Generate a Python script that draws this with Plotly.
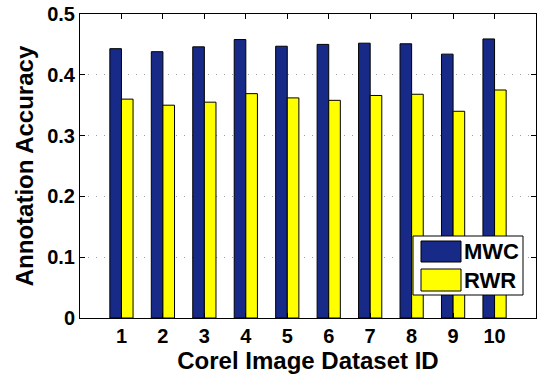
import plotly.graph_objects as go

dataset_ids = [1, 2, 3, 4, 5, 6, 7, 8, 9, 10]
mwc = [0.443, 0.438, 0.446, 0.458, 0.447, 0.450, 0.452, 0.451, 0.434, 0.459]
rwr = [0.360, 0.350, 0.355, 0.369, 0.362, 0.358, 0.366, 0.368, 0.340, 0.375]
series_names = ["MWC", "RWR"]
series_colors = ["#172a88", "#ffff00"]
y_ticks = [0, 0.1, 0.2, 0.3, 0.4, 0.5]
y_tick_text = ["0", "0.1", "0.2", "0.3", "0.4", "0.5"]

FONT = "Liberation Sans, Arial, sans-serif"

fig = go.Figure()
for name, vals, col in zip(series_names, [mwc, rwr], series_colors):
    fig.add_trace(go.Bar(
        x=dataset_ids, y=vals, name=name,
        marker=dict(color=col, line=dict(color="black", width=1)),
        showlegend=False,
    ))

fig.update_layout(
    width=538, height=379,
    margin=dict(l=80, r=2, t=14, b=61),
    paper_bgcolor="white", plot_bgcolor="white",
    barmode="group", bargap=0.44, bargroupgap=0,
    font=dict(family=FONT, color="black"),
)

axis_common = dict(
    showline=True, linecolor="black", linewidth=1, mirror="ticks",
    ticks="inside", ticklen=5, tickcolor="black", tickwidth=1,
    tickfont=dict(family=FONT, size=20, color="black", weight="bold"),
    zeroline=False,
)
fig.update_xaxes(
    range=[0, 11], tickvals=dataset_ids, ticktext=[str(v) for v in dataset_ids],
    showgrid=False,
    title=dict(text="<b>Corel Image Dataset ID</b>", font=dict(family=FONT, size=24, color="black"), standoff=4),
    **axis_common,
)
fig.update_yaxes(
    range=[0, 0.5], tickvals=y_ticks, ticktext=y_tick_text,
    showgrid=True, gridcolor="#a0a0a0", griddash="1px,7px", gridwidth=1,
    title=dict(text="<b>Annotation Accuracy</b>", font=dict(family=FONT, size=24, color="black"), standoff=6),
    **axis_common,
)

# Custom legend box (large swatches like the original)
px0, px1, py0, py1 = 80, 536, 14, 318
def xp(p):
    return (p - px0) / (px1 - px0)
def yp(p):
    return (py1 - p) / (py1 - py0)

shapes = [dict(type="rect", xref="paper", yref="paper",
               x0=xp(413), x1=xp(523), y0=yp(295), y1=yp(236),
               fillcolor="white", line=dict(color="black", width=1))]
annotations = []
rows = [(241, 262), (269, 291)]
for (t, b), name, col in zip(rows, series_names, series_colors):
    shapes.append(dict(type="rect", xref="paper", yref="paper",
                       x0=xp(421), x1=xp(461), y0=yp(b), y1=yp(t),
                       fillcolor=col, line=dict(color="black", width=1)))
    annotations.append(dict(xref="paper", yref="paper", x=xp(462), y=yp((t + b) / 2),
                            text="<b>%s</b>" % name, showarrow=False,
                            xanchor="left", yanchor="middle",
                            font=dict(family=FONT, size=22, color="black")))
fig.update_layout(shapes=shapes, annotations=annotations)

fig.write_html("out.html")
